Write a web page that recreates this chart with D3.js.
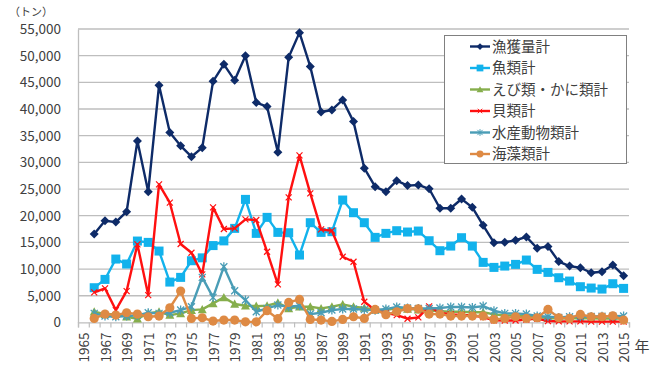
<!DOCTYPE html>
<html>
<head>
<meta charset="utf-8">
<script src="https://cdn.jsdelivr.net/npm/d3@7/dist/d3.min.js"></script>
<style>
  html, body { margin: 0; padding: 0; background: #fff; }
  svg { display: block; }
  text { font-family: "Noto Sans CJK JP", "Noto Sans", sans-serif; fill: #404040; }
</style>
</head>
<body>
<svg id="chart" width="662" height="365"></svg>
<script>
// Category axis years and the data years (catch statistics, tonnes)
const axisYears = d3.range(1965, 2016);
const dataYears = d3.range(1966, 2016);
const yTicks = [0, 5000, 10000, 15000, 20000, 25000, 30000, 35000, 40000, 45000, 50000, 55000];

const totalCatch = [16560, 19060, 18800, 20750, 34000, 24500, 44440, 35600, 33100, 31060,
  32750, 45190, 48375, 45375, 50000, 41200, 40450, 31900, 49700, 54320,
  47950, 39450, 39825, 41700, 37640, 28900, 25450, 24500, 26570, 25640,
  25760, 25050, 21400, 21400, 23130, 21570, 18200, 14950, 15030, 15400,
  16030, 13900, 14250, 11400, 10560, 10250, 9310, 9500, 10750, 8750];
const fish = [6500, 8060, 11875, 10940, 15250, 15000, 13375, 7560, 8440, 11560,
  12100, 14400, 15280, 17625, 23060, 16690, 19690, 16875, 16810, 12625,
  18690, 16875, 17000, 22940, 20560, 18690, 15940, 16690, 17190, 16940,
  17125, 15310, 13440, 14310, 15875, 14310, 11250, 10310, 10560, 10875,
  11690, 9940, 9375, 8375, 7750, 6690, 6440, 6250, 7250, 6375];
const crustaceans = [2000, 1560, 1560, 1060, 690, 1690, 2000, 1375, 1690, 2310,
  2440, 3560, 4690, 3440, 3125, 3060, 3125, 3690, 2625, 2940,
  2940, 2625, 2940, 3375, 2940, 2700, 2400, 2300, 2700, 2500,
  2400, 2200, 2100, 2000, 2000, 1900, 1900, 1500, 1300, 1300,
  1200, 1000, 800, 700, 750, 800, 750, 700, 750, 700];
const shellfish = [5625, 6375, 2310, 5875, 14625, 5125, 25875, 22440, 14690, 13060,
  9000, 21560, 17500, 17625, 19310, 19190, 13250, 7125, 23440, 31300,
  24190, 17440, 17190, 12310, 11375, 3875, 2310, 1810, 1375, 690,
  940, 3000, 1800, 1500, 1400, 1300, 1000, 400, 350, 350,
  550, 700, 250, 200, 200, 200, 150, 150, 150, 150];
const otherAnimals = [1690, 1190, 1060, 1190, 1310, 1810, 1690, 1810, 2310, 2940,
  8440, 4690, 10440, 5940, 4190, 2000, 2625, 3250, 2940, 3125,
  1560, 1810, 2310, 2500, 2500, 2400, 2300, 2500, 2900, 2700,
  2600, 2600, 2700, 2900, 2900, 2800, 3060, 2190, 1690, 1690,
  1560, 1190, 1060, 940, 1060, 1060, 1100, 1150, 1150, 1190];
const seaweed = [750, 1560, 1375, 1810, 1560, 1060, 1190, 2750, 5875, 750,
  875, 250, 440, 440, 100, 100, 2190, 690, 3750, 4310,
  560, 440, 190, 560, 1060, 750, 2440, 1450, 2000, 2600,
  2550, 1560, 1560, 1190, 1190, 1190, 1190, 560, 750, 1060,
  750, 875, 2440, 875, 750, 1500, 1060, 1060, 1250, 440];

const seriesNames = ["漁獲量計", "魚類計", "えび類・かに類計", "貝類計", "水産動物類計", "海藻類計"];
const seriesValues = [totalCatch, fish, crustaceans, shellfish, otherAnimals, seaweed];
const seriesColors = ["#0E2B68", "#12B2EC", "#86AE4C", "#FF1010", "#4A9DB6", "#DE8A44"];
const seriesMarkers = ["diamond", "square", "triangle", "cross", "asterisk", "circle"];

const svg = d3.select("#chart");
const plotL = 78, plotR = 629, plotT = 29, plotB = 322.4;

const x = d3.scaleBand().domain(axisYears).range([plotL, plotR]).padding(0);
const xc = yr => x(yr) + x.bandwidth() / 2;
const y = d3.scaleLinear().domain([0, 55000]).range([plotB, plotT]);

// horizontal gridlines
svg.append("g")
  .selectAll("line")
  .data(yTicks.filter(d => d > 0))
  .join("line")
  .attr("x1", plotL).attr("x2", plotR)
  .attr("y1", d => y(d)).attr("y2", d => y(d))
  .attr("stroke", "#BEBEBE").attr("stroke-width", 1.3);

// y axis
const yAxis = svg.append("g")
  .attr("transform", `translate(${plotL},0)`)
  .call(d3.axisLeft(y).tickValues(yTicks).tickSize(0).tickPadding(17)
    .tickFormat(d3.format(",")));
yAxis.select(".domain").attr("stroke", "#BEBEBE").attr("stroke-width", 1.3);
yAxis.selectAll("text").style("font-size", "13.5px").attr("fill", "#404040");

// x axis: boundary ticks between categories
const xb = d3.scaleLinear().domain([1964.5, 2015.5]).range([plotL, plotR]);
const xTickAxis = svg.append("g")
  .attr("transform", `translate(0,${plotB})`)
  .call(d3.axisBottom(xb).tickValues(d3.range(1964.5, 2016, 1)).tickSize(5).tickFormat(""));
xTickAxis.select(".domain").attr("stroke", "#BEBEBE").attr("stroke-width", 1.3);
xTickAxis.selectAll(".tick line").attr("stroke", "#BEBEBE").attr("stroke-width", 1.2);

// x axis labels (odd years, rotated)
const xLab = svg.append("g")
  .attr("transform", `translate(0,${plotB})`)
  .call(d3.axisBottom(x).tickValues(axisYears.filter(d => d % 2 === 1)).tickSize(0));
xLab.select(".domain").remove();
xLab.selectAll("text")
  .style("font-size", "13.5px")
  .attr("fill", "#404040")
  .attr("text-anchor", "end")
  .attr("transform", "translate(1,10) rotate(-90)")
  .attr("x", 0).attr("y", 0).attr("dy", "0.35em");

// unit labels
svg.append("text").attr("x", 9).attr("y", 16).text("（トン）")
  .style("font-size", "11px");
svg.append("text").attr("x", 642).attr("y", 352).attr("text-anchor", "middle")
  .text("年").style("font-size", "15px");

// marker drawing
function drawMarker(g, type, color) {
  switch (type) {
    case "diamond":
      g.append("path").attr("d", "M0,-4.5L4.5,0L0,4.5L-4.5,0Z").attr("fill", color);
      break;
    case "square":
      g.append("rect").attr("x", -4.5).attr("y", -4.5).attr("width", 9).attr("height", 9).attr("fill", color);
      break;
    case "triangle":
      g.append("path").attr("d", "M0,-4.5L4.5,3.8L-4.5,3.8Z").attr("fill", color);
      break;
    case "cross":
      g.append("path").attr("d", "M-3,-3L3,3M-3,3L3,-3").attr("stroke", color).attr("stroke-width", 1.2);
      break;
    case "asterisk":
      g.append("path").attr("d", "M-3.5,-3.5L3.5,3.5M-3.5,3.5L3.5,-3.5M0,-4.5L0,4.5").attr("stroke", color).attr("stroke-width", 1.3);
      break;
    case "circle":
      g.append("circle").attr("r", 4.6).attr("fill", color);
      break;
  }
}

const line = d3.line().x(d => xc(d[0])).y(d => y(d[1]));

seriesValues.forEach((vals, i) => {
  const pts = dataYears.map((yr, j) => [yr, vals[j]]);
  const g = svg.append("g");
  g.append("path").datum(pts).attr("d", line)
    .attr("fill", "none").attr("stroke", seriesColors[i]).attr("stroke-width", 2.4)
    .attr("stroke-linejoin", "round");
  g.selectAll("g.m").data(pts).join("g").attr("class", "m")
    .attr("transform", d => `translate(${xc(d[0])},${y(d[1])})`)
    .each(function () { drawMarker(d3.select(this), seriesMarkers[i], seriesColors[i]); });
});

// legend
const lg = svg.append("g");
lg.append("rect").attr("x", 444.5).attr("y", 35.5).attr("width", 182).attr("height", 128)
  .attr("fill", "#fff").attr("stroke", "#808080").attr("stroke-width", 1);
seriesNames.forEach((name, i) => {
  const yy = 46.5 + i * 21.5;
  lg.append("line").attr("x1", 470).attr("x2", 490).attr("y1", yy).attr("y2", yy)
    .attr("stroke", seriesColors[i]).attr("stroke-width", 2.4);
  const m = lg.append("g");
  drawMarker(m, seriesMarkers[i], seriesColors[i]);
  m.attr("transform", `translate(480,${yy}) scale(0.75)`);
  lg.append("text").attr("x", 492).attr("y", yy).attr("dy", "0.36em")
    .text(name).style("font-size", "14.5px").attr("fill", "#1a1a1a");
});
</script>
</body>
</html>
